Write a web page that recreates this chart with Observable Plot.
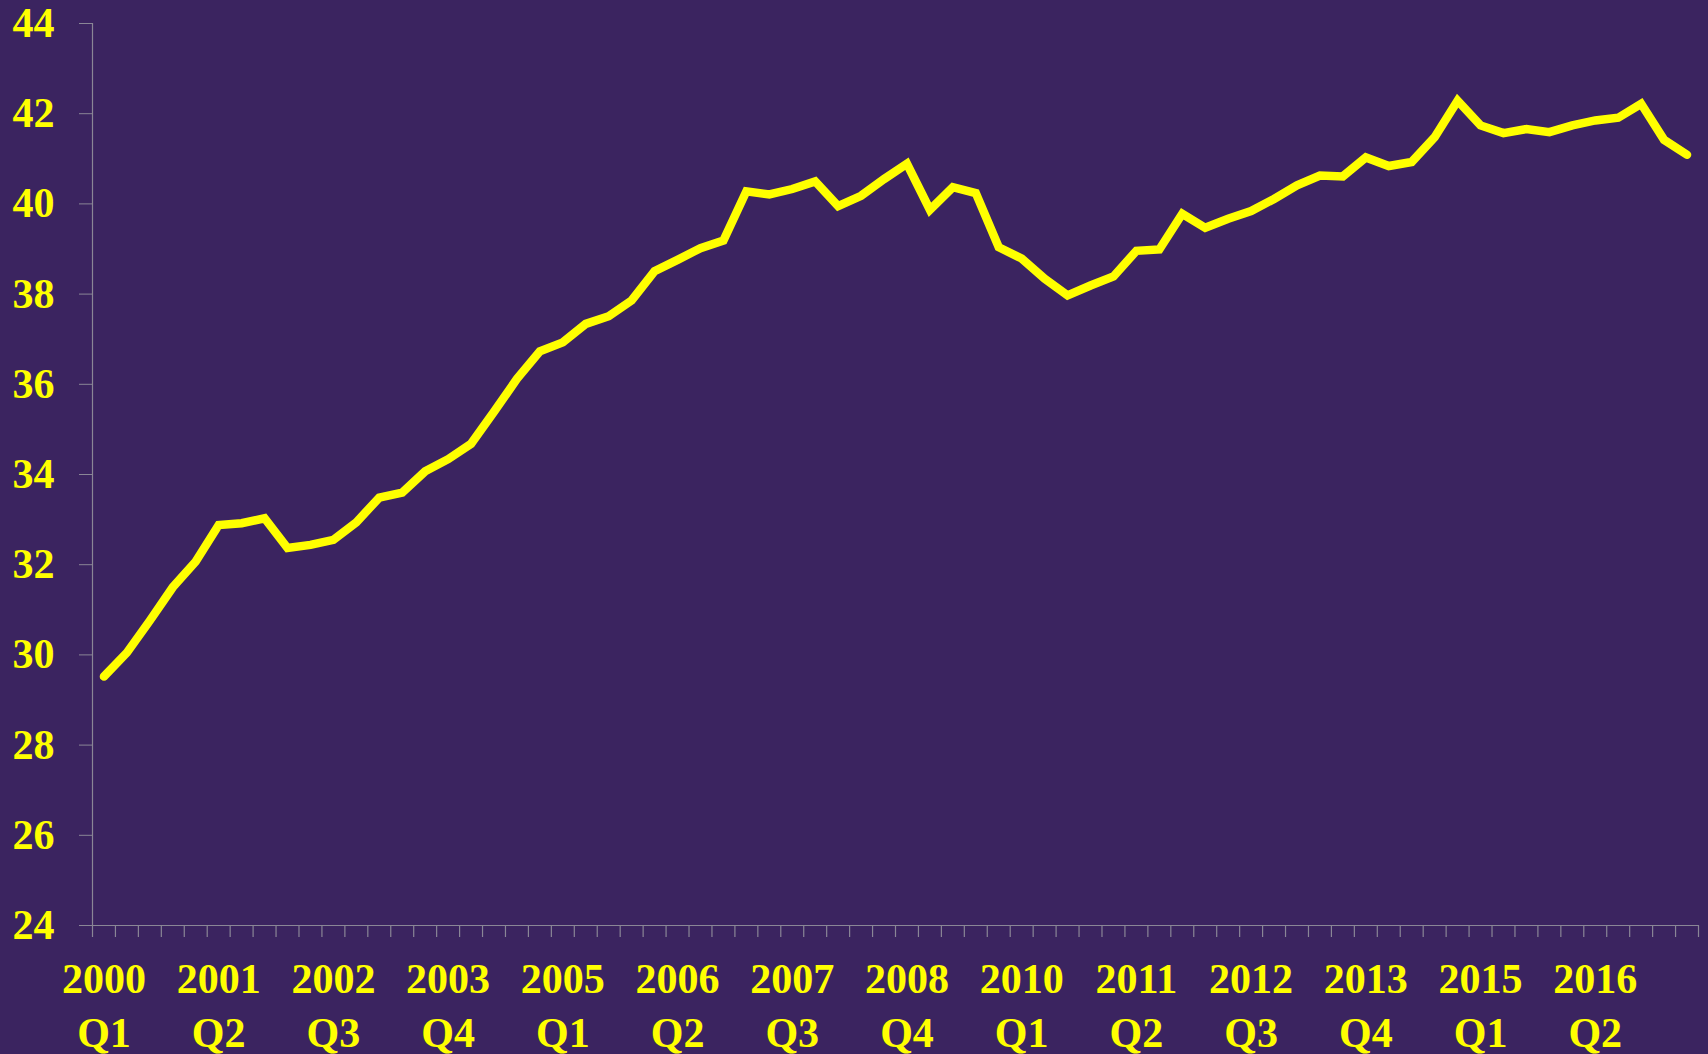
<!DOCTYPE html>
<html>
<head>
<meta charset="utf-8">
<script src="https://cdn.jsdelivr.net/npm/d3@7"></script>
<script src="https://cdn.jsdelivr.net/npm/@observablehq/plot@0.6"></script>
<style>
  html, body { margin: 0; padding: 0; background: #3B2460; overflow: hidden; }
  #chart { width: 1708px; height: 1054px; }
</style>
</head>
<body>
<div id="chart"></div>
<script>
// Quarterly periods, 2000 Q1 .. 2017 Q2
const startYear = 2000;
const periodCount = 70;
const periods = d3.range(periodCount).map(i => `${startYear + Math.floor(i / 4)}\nQ${(i % 4) + 1}`);

// Series values
const values = [
  29.52, 30.05, 30.76, 31.50, 32.07, 32.88, 32.92, 33.03, 32.37, 32.44,
  32.55, 32.94, 33.49, 33.60, 34.07, 34.34, 34.68, 35.39, 36.12, 36.73,
  36.93, 37.34, 37.51, 37.86, 38.51, 38.76, 39.02, 39.19, 40.28, 40.21,
  40.33, 40.50, 39.95, 40.18, 40.55, 40.89, 39.87, 40.37, 40.24, 39.04,
  38.79, 38.34, 37.97, 38.19, 38.39, 38.96, 38.99, 39.78, 39.47, 39.67,
  39.84, 40.11, 40.41, 40.63, 40.61, 41.03, 40.84, 40.93, 41.48, 42.29,
  41.74, 41.57, 41.66, 41.59, 41.74, 41.85, 41.91, 42.22, 41.42, 41.09
];

const yTicks = [24, 26, 28, 30, 32, 34, 36, 38, 40, 42, 44];
const yDomain = [24, 44];
const labelEvery = 5;

const bg = "#3B2460";
const fg = "#FFFF00";
const axisGrey = "#8a8696";
const font = "'Palatino Linotype','Book Antiqua',Palatino,'Liberation Serif','DejaVu Serif',serif";

const data = values.map((v, i) => ({i, period: periods[i], v}));
const xDomain = [-0.5, periodCount - 0.5];
const boundaryTicks = d3.range(periodCount + 1).map(k => k - 0.5);
const labelTicks = d3.range(0, periodCount, labelEvery);

const chart = Plot.plot({
  width: 1708,
  height: 1054,
  marginLeft: 92,
  marginRight: 10,
  marginTop: 23,
  marginBottom: 129,
  style: {
    background: bg,
    color: fg,
    fontFamily: font,
    fontSize: "42px",
    fontWeight: "bold",
    overflow: "visible"
  },
  x: {type: "linear", domain: xDomain, axis: null, label: null},
  y: {domain: yDomain, axis: null, label: null},
  marks: [
    Plot.axisY({
      ticks: yTicks,
      label: null,
      tickSize: 13,
      tickPadding: 25,
      stroke: axisGrey,
      fill: fg,
      fontSize: 42,
      fontWeight: "bold",
      tickFormat: d => String(d)
    }),
    Plot.ruleX([xDomain[0]], {stroke: axisGrey, strokeWidth: 1.2}),
    Plot.ruleY([yDomain[0]], {stroke: axisGrey, strokeWidth: 1.2, x1: xDomain[0], x2: xDomain[1]}),
    Plot.axisX({
      ticks: boundaryTicks,
      label: null,
      tickSize: 12,
      stroke: axisGrey,
      strokeWidth: 1.2,
      tickFormat: () => ""
    }),
    Plot.axisX({
      ticks: labelTicks,
      label: null,
      tickSize: 0,
      tickPadding: 29,
      fill: fg,
      fontSize: 42,
      fontWeight: "bold",
      lineHeight: 1.29,
      tickFormat: i => periods[i]
    }),
    Plot.line(data, {
      x: "i",
      y: "v",
      stroke: fg,
      strokeWidth: 8.5,
      strokeLinecap: "round",
      strokeLinejoin: "miter",
      strokeMiterlimit: 4
    })
  ]
});

document.getElementById("chart").appendChild(chart);
</script>
</body>
</html>
